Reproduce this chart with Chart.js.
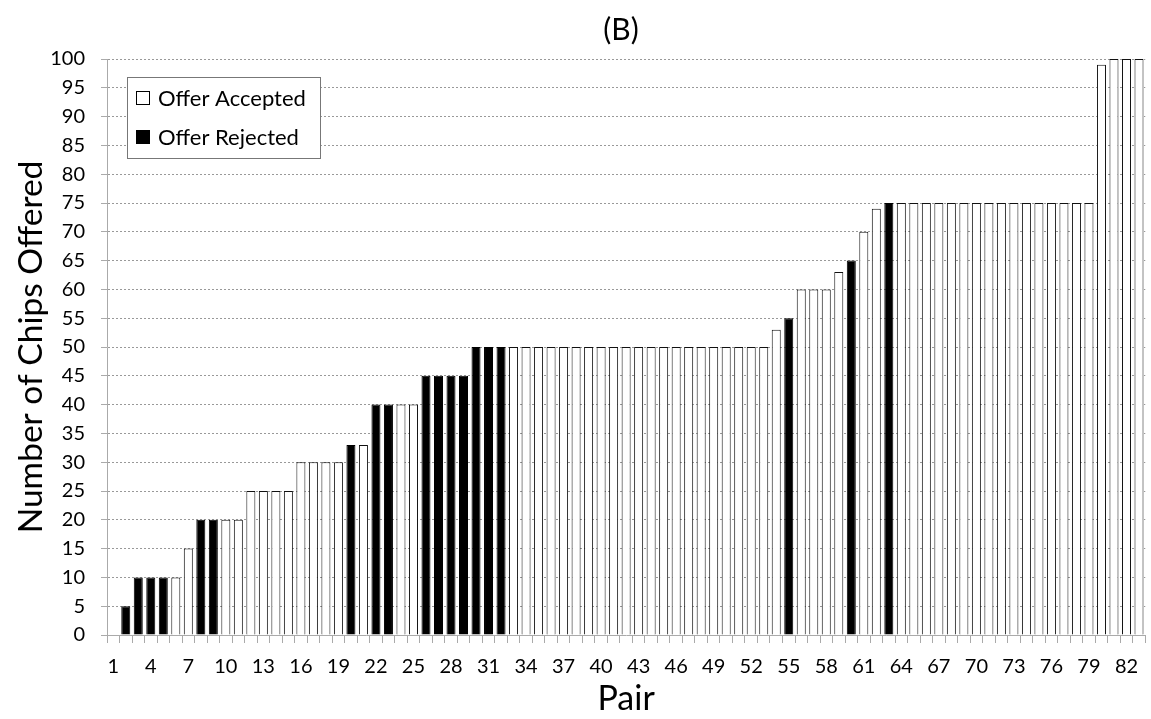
<!DOCTYPE html>
<html>
<head>
<meta charset="utf-8">
<script src="https://cdn.jsdelivr.net/npm/chart.js@4/dist/chart.umd.min.js"></script>
<style>
  html, body { margin: 0; padding: 0; background: #fff; }
  .wrap { width: 1151px; height: 719px; }
</style>
</head>
<body>
<div class="wrap"><canvas id="chart"></canvas></div>
<script>
// pair numbers 1..83
const pairs = [
  1, 2, 3, 4, 5, 6, 7, 8, 9, 10, 11, 12, 13, 14, 15, 16, 17, 18, 19, 20,
  21, 22, 23, 24, 25, 26, 27, 28, 29, 30, 31, 32, 33, 34, 35, 36, 37, 38, 39, 40,
  41, 42, 43, 44, 45, 46, 47, 48, 49, 50, 51, 52, 53, 54, 55, 56, 57, 58, 59, 60,
  61, 62, 63, 64, 65, 66, 67, 68, 69, 70, 71, 72, 73, 74, 75, 76, 77, 78, 79, 80,
  81, 82, 83
];
// chips offered per pair
const chipsOffered = [
  0, 5, 10, 10, 10, 10, 15, 20, 20, 20, 20, 25, 25, 25, 25, 30, 30, 30, 30, 33,
  33, 40, 40, 40, 40, 45, 45, 45, 45, 50, 50, 50, 50, 50, 50, 50, 50, 50, 50, 50,
  50, 50, 50, 50, 50, 50, 50, 50, 50, 50, 50, 50, 50, 53, 55, 60, 60, 60, 63, 65,
  70, 74, 75, 75, 75, 75, 75, 75, 75, 75, 75, 75, 75, 75, 75, 75, 75, 75, 75, 99,
  100, 100, 100
];
// 1 = offer rejected, 0 = accepted
const rejected = [
  0, 1, 1, 1, 1, 0, 0, 1, 1, 0, 0, 0, 0, 0, 0, 0, 0, 0, 0, 1,
  0, 1, 1, 0, 0, 1, 1, 1, 1, 1, 1, 1, 0, 0, 0, 0, 0, 0, 0, 0,
  0, 0, 0, 0, 0, 0, 0, 0, 0, 0, 0, 0, 0, 0, 1, 0, 0, 0, 0, 1,
  0, 0, 1, 0, 0, 0, 0, 0, 0, 0, 0, 0, 0, 0, 0, 0, 0, 0, 0, 0,
  0, 0, 0
];
const yTicks = [0, 5, 10, 15, 20, 25, 30, 35, 40, 45, 50, 55, 60, 65, 70, 75, 80, 85, 90, 95, 100];

const accepted = chipsOffered.map((v, i) => (rejected[i] ? null : v));
const rejectedVals = chipsOffered.map((v, i) => (rejected[i] ? v : null));

const FONT = "Lato, 'Open Sans', sans-serif";

// "(B)" heading and the boxed legend inside the plot area
const extras = {
  id: "extras",
  afterDraw(chart) {
    const ctx = chart.ctx;
    const a = chart.chartArea;
    ctx.save();
    ctx.fillStyle = "#000";
    ctx.font = "30px " + FONT;
    ctx.textAlign = "center";
    ctx.textBaseline = "middle";
    ctx.fillText("(B)", 621, 30);

    const x = a.left + 20, y = a.top + 18, w = 193, h = 81;
    ctx.fillStyle = "#fff";
    ctx.fillRect(x, y, w, h);
    ctx.strokeStyle = "#777";
    ctx.lineWidth = 1;
    ctx.strokeRect(x + 0.5, y + 0.5, w, h);
    ctx.font = "22px " + FONT;
    ctx.textAlign = "left";
    chart.data.datasets.forEach((ds, i) => {
      const cy = y + 21 + i * 39;
      ctx.fillStyle = ds.backgroundColor;
      ctx.fillRect(x + 9, cy - 7, 14, 14);
      ctx.strokeStyle = "#000";
      ctx.strokeRect(x + 9.5, cy - 6.5, 13, 13);
      ctx.fillStyle = "#000";
      ctx.fillText(ds.label, x + 31, cy + 1);
    });
    ctx.restore();
  },
};

new Chart(document.getElementById("chart"), {
  type: "bar",
  data: {
    labels: pairs,
    datasets: [
      {
        label: "Offer Accepted",
        data: accepted,
        backgroundColor: "#ffffff",
        borderColor: "#111",
        borderWidth: 1,
        barPercentage: 0.72,
        categoryPercentage: 1,
      },
      {
        label: "Offer Rejected",
        data: rejectedVals,
        backgroundColor: "#000000",
        borderColor: "#000",
        borderWidth: 1,
        barPercentage: 0.72,
        categoryPercentage: 1,
      },
    ],
  },
  options: {
    responsive: true,
    maintainAspectRatio: false,
    animation: false,
    layout: { padding: { top: 59, left: 0, right: 0, bottom: 0 } },
    plugins: {
      legend: { display: false },
      tooltip: { enabled: false },
      title: { display: false },
    },
    scales: {
      x: {
        stacked: true,
        afterFit: (s) => { s.height = 84; },
        grid: {
          display: true,
          drawOnChartArea: false,
          drawTicks: true,
          tickLength: 8,
          tickColor: "#aaa",
          tickBorderDash: [],
        },
        border: { display: true, color: "#aaa", width: 1 },
        ticks: {
          autoSkip: false,
          maxRotation: 0,
          padding: 12,
          color: "#000",
          font: { family: FONT, size: 20 },
          callback: function (v, i) {
            return i % 3 === 0 ? this.getLabelForValue(v) : "";
          },
        },
        title: {
          display: true,
          text: "Pair",
          color: "#000",
          font: { family: FONT, size: 34 },
          padding: { top: 0, bottom: 0 },
        },
      },
      y: {
        stacked: true,
        min: 0,
        max: 100,
        afterFit: (s) => { s.width = 107; },
        afterBuildTicks: (s) => { s.ticks = yTicks.map((v) => ({ value: v })); },
        grid: {
          color: "#999",
          lineWidth: 1,
          tickLength: 6,
          tickColor: "#aaa",
          tickBorderDash: [],
        },
        border: { display: true, color: "#aaa", width: 1, dash: [2, 2] },
        ticks: {
          padding: 16,
          color: "#000",
          font: { family: FONT, size: 20 },
        },
        title: {
          display: true,
          text: "Number of Chips Offered",
          color: "#000",
          font: { family: FONT, size: 33.5 },
          padding: { top: 11, bottom: 0 },
        },
      },
    },
  },
  plugins: [extras],
});
</script>
</body>
</html>
